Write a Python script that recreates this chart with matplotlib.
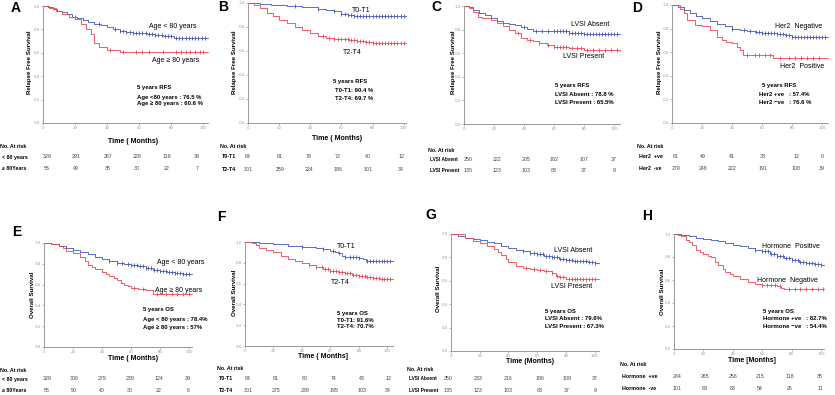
import matplotlib
matplotlib.use("Agg")
import matplotlib.pyplot as plt
import numpy as np

W, H = 835, 395
FAM = ["Liberation Sans", "DejaVu Sans"]
BLUE = "#4255b8"
RED = "#e8454f"

# ---- data: step curves (time in months, survival) and censoring times ----
# A: RFS by age
A_lo_t = [0, 3, 6, 9, 12, 15, 18, 21, 25, 28, 32, 36, 40, 44, 48, 52, 56, 60, 65, 70, 75, 80, 82, 103]
A_lo_s = [1, .99, .975, .96, .945, .93, .91, .895, .88, .865, .85, .835, .82, .80, .785, .775, .77, .765, .76, .75, .745, .74, .73, .73]
A_lo_c = [20, 35, 45, 48, 50, 52, 54, 56, 58, 60, 62, 64, 66, 68, 70, 72, 74, 76, 78, 80, 83, 85, 87, 89, 91, 93, 95, 97, 99, 101]
A_hi_t = [0, 4, 8, 12, 16, 20, 24, 27, 30, 32, 35, 40, 48, 103]
A_hi_s = [1, .98, .96, .93, .91, .89, .85, .80, .76, .68, .65, .625, .606, .606]
A_hi_c = [42, 50, 58, 62, 66, 75, 83, 86, 89, 92, 95, 98, 100]

# B: RFS by T stage
B_lo_t = [0, 8, 15, 25, 35, 45, 50, 55, 60, 64, 68, 75, 101.5]
B_lo_s = [1, .99, .985, .975, .965, .95, .94, .93, .905, .898, .892, .89, .89]
B_lo_c = [30, 45, 55, 60, 62, 64, 66, 68, 70, 72, 74, 76, 78, 80, 82, 84, 86, 88, 90, 92, 94, 96, 98, 100]
B_hi_t = [0, 4, 8, 12, 16, 20, 25, 30, 35, 40, 45, 50, 55, 60, 65, 70, 75, 80, 101.5]
B_hi_s = [1, .98, .955, .92, .89, .86, .83, .80, .775, .75, .725, .71, .70, .697, .69, .68, .675, .67, .67]
B_hi_c = [48, 52, 55, 58, 60, 62, 64, 66, 68, 70, 72, 74, 76, 78, 80, 82, 84, 86, 88, 90, 92, 94, 96, 98, 100]

# C: RFS by LVSI
C_ab_t = [0, 3, 6, 10, 14, 18, 22, 26, 30, 34, 38, 42, 46, 55, 65, 70, 75, 80, 104]
C_ab_s = [1, .99, .97, .94, .92, .895, .875, .86, .85, .835, .82, .805, .79, .788, .785, .775, .77, .76, .76]
C_ab_c = [40, 48, 52, 56, 60, 62, 64, 66, 68, 70, 72, 74, 76, 78, 80, 82, 84, 86, 88, 90, 92, 94, 96, 98, 100, 102]
C_pr_t = [0, 3, 6, 9, 12, 18, 22, 26, 30, 34, 38, 42, 46, 50, 55, 60, 65, 70, 75, 80, 104]
C_pr_s = [1, .98, .95, .91, .90, .88, .86, .83, .80, .77, .73, .71, .70, .69, .67, .655, .65, .645, .64, .625, .62]
C_pr_c = [36, 44, 50, 56, 60, 62, 64, 66, 68, 72, 75, 78, 82, 86, 90, 94, 98, 102]

# D: RFS by Her2
D_neg_t = [0, 4, 8, 12, 16, 20, 25, 30, 35, 40, 45, 50, 55, 60, 65, 70, 75, 80, 104]
D_neg_s = [1, .98, .96, .93, .91, .89, .865, .84, .82, .80, .79, .78, .775, .766, .76, .755, .745, .73, .73]
D_neg_c = [40, 48, 52, 56, 58, 60, 62, 64, 66, 68, 70, 72, 74, 76, 78, 80, 82, 84, 86, 88, 90, 92, 94, 96, 98, 100, 102]
D_pos_t = [0, 5, 8, 10, 15, 20, 25, 30, 33, 36, 40, 43, 45, 47, 60, 67, 104]
D_pos_s = [1, .97, .93, .875, .83, .82, .79, .73, .70, .69, .675, .64, .62, .58, .574, .55, .55]
D_pos_c = [50, 55, 58, 62, 65, 72, 78, 82, 86, 90, 94, 98]

# E: OS by age
E_lo_t = [0, 5, 10, 15, 20, 25, 30, 35, 40, 45, 50, 55, 60, 65, 70, 75, 80, 85, 90, 95, 100, 102]
E_lo_s = [1, .99, .97, .955, .935, .91, .89, .865, .845, .825, .81, .80, .784, .775, .76, .745, .735, .725, .716, .705, .70, .70]
E_lo_c = [45, 50, 54, 58, 60, 62, 64, 66, 68, 70, 72, 74, 76, 78, 80, 82, 84, 86, 88, 90, 92, 94, 96, 98, 100]
E_hi_t = [0, 5, 10, 13, 15, 20, 25, 28, 30, 33, 35, 40, 43, 45, 48, 50, 53, 55, 58, 60, 65, 70, 75, 102]
E_hi_s = [1, .99, .97, .95, .92, .90, .865, .83, .79, .77, .75, .725, .70, .68, .66, .645, .62, .60, .585, .57, .56, .55, .51, .51]
E_hi_c = [62, 68, 78, 84, 88, 92, 96, 100]

# F: OS by T stage
F_lo_t = [0, 10, 20, 30, 40, 50, 55, 60, 63, 65, 68, 70, 75, 80, 83, 85, 104]
F_lo_s = [1, .99, .98, .965, .95, .94, .935, .916, .905, .89, .87, .86, .855, .85, .835, .82, .82]
F_lo_c = [40, 55, 62, 66, 70, 74, 76, 78, 80, 86, 88, 90, 92, 94, 96, 98, 100, 102]
F_hi_t = [0, 5, 8, 10, 15, 20, 25, 30, 35, 40, 45, 50, 55, 60, 65, 70, 75, 80, 85, 90, 95, 104]
F_hi_s = [1, .99, .97, .945, .925, .905, .87, .84, .815, .80, .78, .76, .74, .72, .71, .70, .685, .67, .66, .655, .645, .64]
F_hi_c = [45, 50, 54, 56, 58, 60, 62, 64, 66, 68, 70, 72, 74, 76, 78, 80, 82, 84, 86, 88, 90, 92, 94, 96, 98, 100, 102]

# G: OS by LVSI
G_ab_t = [0, 5, 10, 15, 20, 25, 30, 35, 40, 45, 50, 55, 60, 65, 70, 75, 80, 85, 90, 95, 100, 103]
G_ab_s = [1, .985, .97, .955, .945, .93, .92, .90, .88, .865, .855, .84, .83, .815, .80, .785, .775, .77, .766, .76, .75, .75]
G_ab_c = [50, 55, 58, 60, 62, 64, 66, 68, 70, 72, 74, 76, 78, 80, 82, 84, 86, 88, 90, 92, 94, 96, 98, 100]
G_pr_t = [0, 8, 10, 15, 20, 25, 30, 33, 35, 38, 40, 45, 50, 55, 60, 65, 70, 73, 75, 80, 103]
G_pr_s = [1, 1, .97, .94, .92, .90, .875, .85, .82, .79, .76, .73, .71, .70, .695, .68, .665, .645, .63, .615, .615]
G_pr_c = [52, 58, 62, 66, 70, 74, 76, 78, 82, 84, 86, 88, 90, 92, 94, 96, 98, 100]

# H: OS by hormone status
H_pos_t = [0, 5, 10, 15, 20, 25, 30, 35, 40, 45, 50, 55, 60, 65, 70, 75, 80, 85, 90, 95, 100, 102]
H_pos_s = [1, .99, .98, .965, .955, .945, .935, .92, .905, .895, .88, .865, .85, .83, .81, .79, .77, .76, .75, .74, .73, .73]
H_pos_c = [55, 60, 62, 64, 66, 68, 70, 72, 74, 76, 78, 80, 82, 84, 86, 88, 90, 92, 94, 96, 98, 100]
H_neg_t = [0, 3, 5, 8, 10, 12, 15, 18, 20, 23, 25, 28, 30, 33, 35, 38, 40, 45, 50, 55, 60, 70, 73, 75, 102]
H_neg_s = [1, .99, .98, .95, .93, .905, .86, .84, .83, .81, .80, .76, .73, .70, .67, .65, .635, .61, .585, .565, .555, .547, .53, .52, .52]
H_neg_c = [60, 63, 66, 69, 72, 78, 82, 86, 90, 94, 98, 101]

# numbers at risk (at 0, 20, 40, 60, 80, 100 months)
A_risk = [[329, 291, 267, 228, 119, 39], [56, 49, 35, 30, 22, 7]]
B_risk = [[84, 81, 78, 72, 40, 12], [301, 259, 224, 186, 101, 34]]
C_risk = [[250, 222, 205, 182, 107, 37], [135, 123, 103, 83, 37, 9]]
D_risk = [[61, 49, 41, 33, 12, 0], [279, 248, 222, 191, 108, 39]]
E_risk = [[329, 306, 279, 239, 124, 39], [56, 50, 40, 30, 22, 6]]
F_risk = [[84, 81, 80, 74, 43, 12], [301, 275, 239, 195, 103, 34]]
G_risk = [[250, 233, 216, 186, 109, 37], [135, 123, 103, 83, 37, 9]]
H_risk = [[284, 265, 256, 215, 118, 35], [101, 83, 63, 54, 26, 11]]


fig = plt.figure(figsize=(W / 100, H / 100), dpi=100)


def ft(x, y, s, size=4.2, weight="normal", ha="left", **kw):
    # text at pixel position of the reference image
    fig.text(x / W, 1 - y / H, s, fontsize=size, fontweight=weight, ha=ha,
             va="center", family=FAM, **kw)


def letter(x, y, s):
    fig.text(x / W, 1 - y / H, s, fontsize=10, fontweight="bold", va="center", family=FAM)


def step_val(t, s, c):
    idx = np.searchsorted(t, c, side="right") - 1
    return np.asarray(s)[idx]


def km_axes(l, t, r, b, xmax, curves):
    ax = fig.add_axes([l / W, 1 - b / H, (r - l) / W, (b - t) / H])
    for ct, cs, cc, col in curves:
        ax.plot(ct, cs, drawstyle="steps-post", color=col, lw=0.6, clip_on=False)
        ax.plot(cc, step_val(ct, cs, cc), "|", color=col, ms=2.2, mew=0.6, clip_on=False)
    ax.set_xlim(0, xmax)
    ax.set_ylim(0, 1.0)
    ax.set_xticks([0, 20, 40, 60, 80, 100])
    ax.set_yticks([0, .2, .4, .6, .8, 1.0])
    ax.set_yticklabels(["0.0", "0.2", "0.4", "0.6", "0.8", "1.0"])
    for sp in ["top", "right"]:
        ax.spines[sp].set_visible(False)
    for sp in ["left", "bottom"]:
        ax.spines[sp].set_color("#999999")
        ax.spines[sp].set_linewidth(0.7)
    ax.tick_params(length=1.5, width=0.5, labelsize=2.8, colors="#999999", pad=1)
    ax.patch.set_alpha(0)
    return ax


def risk_table(x0, y0, ys, xs, names, rows, lsize=3.8):
    ft(x0, y0, "No. At risk", size=3.8, weight="bold")
    for name, vals, yy in zip(names, rows, ys):
        ft(x0 + 2, yy, name, size=lsize, weight="bold")
        for xx, v in zip(xs, vals):
            ft(xx, yy, str(v), size=3.8, ha="center", color="#444444")


RFS = "Relapse Free Survival"
OS = "Overall Survival"
LAB = 5.0     # curve labels
NOTE = 4.3    # 5-year summary
XL = 5.0      # x axis label
YL = 4.4      # y axis label

# ---- A ----
km_axes(43, 6, 208, 123, 103, [(A_lo_t, A_lo_s, A_lo_c, BLUE), (A_hi_t, A_hi_s, A_hi_c, RED)])
letter(11, 8, "A")
ft(149, 27, "Age < 80 years", size=LAB)
ft(152, 61, "Age \u2265 80 years", size=LAB)
ft(137, 88, "5 years RFS", size=NOTE, weight="bold")
ft(137, 97, "Age <80 years : 76.5 %", size=NOTE, weight="bold")
ft(137, 104, "Age \u2265 80 years : 60.6 %", size=NOTE, weight="bold")
ft(133, 142, "Time ( Months)", size=XL, weight="bold", ha="center")
ft(29, 62, RFS, size=YL, weight="bold", ha="center", rotation=90)
risk_table(0, 146, [157, 168], [47, 76, 108, 137, 167, 197], ["< 80 years", "\u2265 80Years"], A_risk)

# ---- B ----
km_axes(248, 3, 406, 123, 101.5, [(B_lo_t, B_lo_s, B_lo_c, BLUE), (B_hi_t, B_hi_s, B_hi_c, RED)])
letter(218, 7, "B")
ft(352, 11, "T0-T1", size=LAB)
ft(343, 52, "T2-T4", size=LAB)
ft(333, 82, "5 years RFS", size=NOTE, weight="bold")
ft(335, 91, "T0-T1: 90.4 %", size=NOTE, weight="bold")
ft(335, 99, "T2-T4: 69.7 %", size=NOTE, weight="bold")
ft(337, 139, "Time ( Months)", size=XL, weight="bold", ha="center")
ft(234, 62, RFS, size=YL, weight="bold", ha="center", rotation=90)
risk_table(220, 147, [156, 169], [248, 280, 309, 338, 368, 401], ["T0-T1", "T2-T4"], B_risk)

# ---- C ----
km_axes(464, 6, 620, 124, 104, [(C_ab_t, C_ab_s, C_ab_c, BLUE), (C_pr_t, C_pr_s, C_pr_c, RED)])
letter(431, 7, "C")
ft(571, 25, "LVSI Absent", size=LAB)
ft(563, 57, "LVSI Present", size=LAB)
ft(555, 85, "5 years RFS", size=NOTE, weight="bold")
ft(555, 94, "LVSI Absent : 78.8 %", size=NOTE, weight="bold")
ft(555, 102, "LVSI Present : 65.5%", size=NOTE, weight="bold")
ft(453, 62, RFS, size=YL, weight="bold", ha="center", rotation=90)
risk_table(428, 150, [160, 171], [468, 497, 526, 554, 584, 614], ["LVSI Absent", "LVSI Present"], C_risk, 3.4)

# ---- D ----
km_axes(672, 5, 828, 123, 104, [(D_neg_t, D_neg_s, D_neg_c, BLUE), (D_pos_t, D_pos_s, D_pos_c, RED)])
letter(632, 8, "D")
ft(775, 27, "Her2  Negative", size=LAB)
ft(780, 66, "Her2  Positive", size=LAB)
ft(762, 85, "5 years RFS", size=NOTE, weight="bold")
ft(759, 94, "Her2 +ve   : 57.4%", size=NOTE, weight="bold")
ft(759, 102, "Her2 \u2212ve   : 76.6 %", size=NOTE, weight="bold")
ft(659, 62, RFS, size=YL, weight="bold", ha="center", rotation=90)
risk_table(637, 147, [156, 168], [676, 703, 732, 763, 796, 822], ["Her2  +ve", "Her2  -ve"], D_risk)

# ---- E ----
km_axes(44, 243, 192, 347, 102, [(E_lo_t, E_lo_s, E_lo_c, BLUE), (E_hi_t, E_hi_s, E_hi_c, RED)])
letter(12, 232, "E")
ft(157, 263, "Age < 80 years", size=LAB)
ft(155, 290, "Age \u2265 80 years", size=LAB)
ft(143, 310, "5 years OS", size=NOTE, weight="bold")
ft(143, 319, "Age < 80 years : 78.4%", size=NOTE, weight="bold")
ft(143, 327, "Age \u2265 80 years : 57%", size=NOTE, weight="bold")
ft(133, 358, "Time ( Months)", size=XL, weight="bold", ha="center")
ft(33, 295, OS, size=YL, weight="bold", ha="center", rotation=90)
risk_table(0, 370, [379, 391], [47, 74, 102, 130, 159, 188], ["< 80 years", "\u2265 80Years"], E_risk)

# ---- F ----
km_axes(245, 242, 393, 346, 104, [(F_lo_t, F_lo_s, F_lo_c, BLUE), (F_hi_t, F_hi_s, F_hi_c, RED)])
letter(217, 217, "F")
ft(337, 246, "T0-T1", size=LAB)
ft(331, 283, "T2-T4", size=LAB)
ft(337, 313, "5 years OS", size=NOTE, weight="bold")
ft(337, 320, "T0-T1: 91.6%", size=NOTE, weight="bold")
ft(337, 327, "T2-T4: 70.7%", size=NOTE, weight="bold")
ft(323, 356, "Time ( Months]", size=XL, weight="bold", ha="center")
ft(234, 293, OS, size=YL, weight="bold", ha="center", rotation=90)
risk_table(217, 369, [379, 390], [248, 276, 305, 334, 362, 388], ["T0-T1", "T2-T4"], F_risk)

# ---- G ----
km_axes(451, 234, 599, 351, 103, [(G_ab_t, G_ab_s, G_ab_c, BLUE), (G_pr_t, G_pr_s, G_pr_c, RED)])
letter(425, 215, "G")
ft(554, 251, "LVSI Absent", size=LAB)
ft(551, 286, "LVSI Present", size=LAB)
ft(545, 311, "5 years OS", size=NOTE, weight="bold")
ft(545, 319, "LVSI Absent : 79.6%", size=NOTE, weight="bold")
ft(545, 327, "LVSI Present : 67.3%", size=NOTE, weight="bold")
ft(530, 361.5, "Time (Months)", size=XL, weight="bold", ha="center")
ft(439, 289, OS, size=YL, weight="bold", ha="center", rotation=90)
risk_table(407, 369.5, [379, 391], [448, 478, 508, 540, 567, 595], ["LVSI Absent", "LVSI Present"], G_risk, 3.4)

# ---- H ----
km_axes(674, 234, 824, 349, 102, [(H_pos_t, H_pos_s, H_pos_c, BLUE), (H_neg_t, H_neg_s, H_neg_c, RED)])
letter(642, 216, "H")
ft(762, 247, "Hormone  Positive", size=LAB)
ft(757, 281, "Hormone  Negative", size=LAB)
ft(763, 311, "5 years OS", size=NOTE, weight="bold")
ft(763, 319, "Hormone +ve   : 82.7%", size=NOTE, weight="bold")
ft(763, 327, "Hormone \u2212ve   : 54.4%", size=NOTE, weight="bold")
ft(752, 360, "Time [Months]", size=XL, weight="bold", ha="center")
ft(662, 292, OS, size=YL, weight="bold", ha="center", rotation=90)
risk_table(620, 365, [376, 389], [677, 705, 733, 760, 790, 820], ["Hormone  +ve", "Hormone  -ve"], H_risk)

fig.savefig("out.png", dpi=100)
